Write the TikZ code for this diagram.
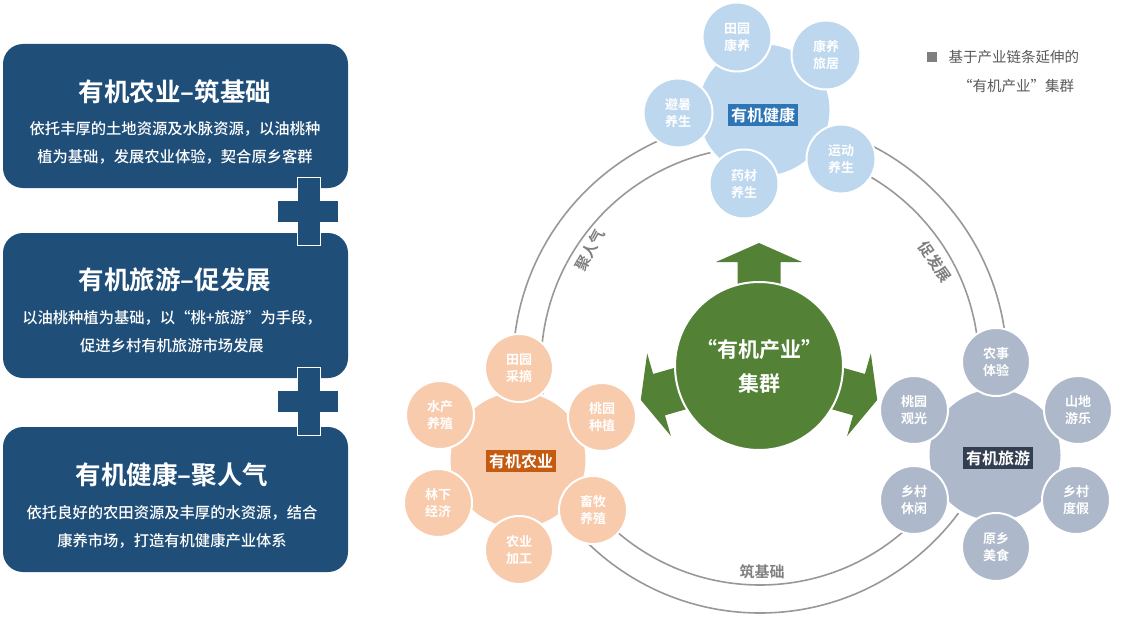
\documentclass[tikz,border=0pt]{standalone}
\usepackage{fontspec}
\setmainfont{Noto Sans CJK SC}
\newfontfamily\cjkb{Noto Sans CJK SC Bold}
\newfontfamily\cjkm{Noto Sans CJK SC Medium}
\begin{document}
\begin{tikzpicture}[x=1pt,y=-1pt,
  panel/.style={fill=panelblue,rounded corners=20pt},
  ptitle/.style={text=white,font=\cjkb\fontsize{25.5}{28}\selectfont},
  pbody/.style={text=white,font=\cjkm\fontsize{15.3}{28}\selectfont,align=center},
  sat/.style={circle,minimum size=#1,draw=white,line width=2pt,inner sep=0pt,
     text=white,font=\cjkb\fontsize{13}{17}\selectfont,align=center},
  blob/.style={circle,draw=white,line width=3pt,minimum size=134pt},
  lbl/.style={text=white,font=\cjkb\fontsize{16}{18}\selectfont,inner sep=3pt},
  ringlbl/.style={text=ringgray,font=\cjkb\fontsize{15}{17}\selectfont,inner sep=0pt}]
\definecolor{panelblue}{HTML}{1F4E79}
\definecolor{ringgray}{HTML}{7F7F7F}
\definecolor{hblue}{HTML}{BDD7EE}
\definecolor{hlab}{HTML}{2E75B6}
\definecolor{aor}{HTML}{F8CBAD}
\definecolor{alab}{HTML}{C55A11}
\definecolor{tgr}{HTML}{ADB9CA}
\definecolor{tlab}{HTML}{333F50}
\definecolor{gr}{HTML}{538135}
\useasboundingbox (0,0) rectangle (1142,623);
% left panels
\node[panel,minimum width=345pt,minimum height=144pt] (p1) at (175.5,116) {};
\node[panel,minimum width=345pt,minimum height=145pt] (p2) at (175.5,305.5) {};
\node[panel,minimum width=345pt,minimum height=145pt] (p3) at (175.5,499.5) {};
\node[ptitle] (t1) at (175,92) {有机农业–筑基础};
\node[pbody] (b1) at (175,143) {依托丰厚的土地资源及水脉资源，以油桃种\\植为基础，发展农业体验，契合原乡客群};
\node[ptitle] (t2) at (175,280) {有机旅游–促发展};
\node[pbody] (b2) at (172,332) {以油桃种植为基础，以“桃+旅游”为手段，\\促进乡村有机旅游市场发展};
\node[ptitle] (t3) at (172,475) {有机健康–聚人气};
\node[pbody] (b3) at (172,527) {依托良好的农田资源及丰厚的水资源，结合\\康养市场，打造有机健康产业体系};
% plus signs
\foreach \y [count=\i] in {211,401}{
  \fill[panelblue,draw=white,line width=1pt] (297,\y-34) -- (320,\y-34) -- (320,\y-11) -- (338,\y-11) -- (338,\y+11) -- (320,\y+11) -- (320,\y+34) -- (297,\y+34) -- (297,\y+11) -- (277,\y+11) -- (277,\y-11) -- (297,\y-11) -- cycle;
}
% rings
\coordinate (c) at (760,366);
\draw[ringgray!80,line width=1.6pt] (c) circle[radius=247];
\draw[ringgray!80,line width=1.6pt] (c) circle[radius=219];
\node[ringlbl,rotate=62] (l1) at (590,250) {聚人气};
\node[ringlbl,rotate=-55] (l2) at (935,262) {促发展};
\node[ringlbl] (l3) at (762,572) {筑基础};
% center arrows
\begin{scope}[shift={(759,366)},y=1pt]
\foreach \a in {90,196,344}{
  \fill[gr,rotate=\a] (60,-21.5) -- (104,-21.5) -- (104,-43) -- (123,0) -- (104,43) -- (104,21.5) -- (60,21.5) -- cycle;
}
\end{scope}
\node[circle,fill=gr,draw=white,line width=2pt,minimum size=168pt,text=white,
  font=\cjkb\fontsize{21}{34}\selectfont,align=center] (cen) at (759,366) {“有机产业”\\集群};
% health cluster
\node[blob,fill=hblue] (hb) at (764,110) {};
\foreach \n/\x/\y/\t in {h1/737/37/田园\\康养, h2/826/55/康养\\旅居, h3/678/113/避暑\\养生, h4/841/159/运动\\养生, h5/744/184/药材\\养生}
  \node[sat=69pt,fill=hblue] (\n) at (\x,\y) {\t};
\node[lbl,fill=hlab] (hl) at (763,115) {有机健康};
% agriculture cluster
\node[blob,fill=aor,minimum size=138pt] (ab) at (518,460) {};
\foreach \n/\x/\y/\t in {a1/519/368/田园\\采摘, a2/440/415/水产\\养殖, a3/602/417/桃园\\种植, a4/438/503/林下\\经济, a5/593/510/畜牧\\养殖, a6/519/550/农业\\加工}
  \node[sat=68pt,fill=aor] (\n) at (\x,\y) {\t};
\node[lbl,fill=alab] (al) at (521,461) {有机农业};
% tourism cluster
\node[blob,fill=tgr] (tb) at (995,455) {};
\foreach \n/\x/\y/\t in {g1/996/362/农事\\体验, g2/914/410/桃园\\观光, g3/1078/410/山地\\游乐, g4/914/500/乡村\\休闲, g5/1076/500/乡村\\度假, g6/996/547/原乡\\美食}
  \node[sat=68pt,fill=tgr] (\n) at (\x,\y) {\t};
\node[lbl,fill=tlab] (tl) at (998,458) {有机旅游};
% legend
\fill[ringgray] (927,52) rectangle (937,62) coordinate (sq);
\node[anchor=west,text=black!65,font=\fontsize{14.5}{18}\selectfont] (lg1) at (945,57) {基于产业链条延伸的};
\node[text=black!65,font=\fontsize{14.5}{18}\selectfont] (lg2) at (1016,86) {“有机产业”集群};
\end{tikzpicture}
\end{document}
